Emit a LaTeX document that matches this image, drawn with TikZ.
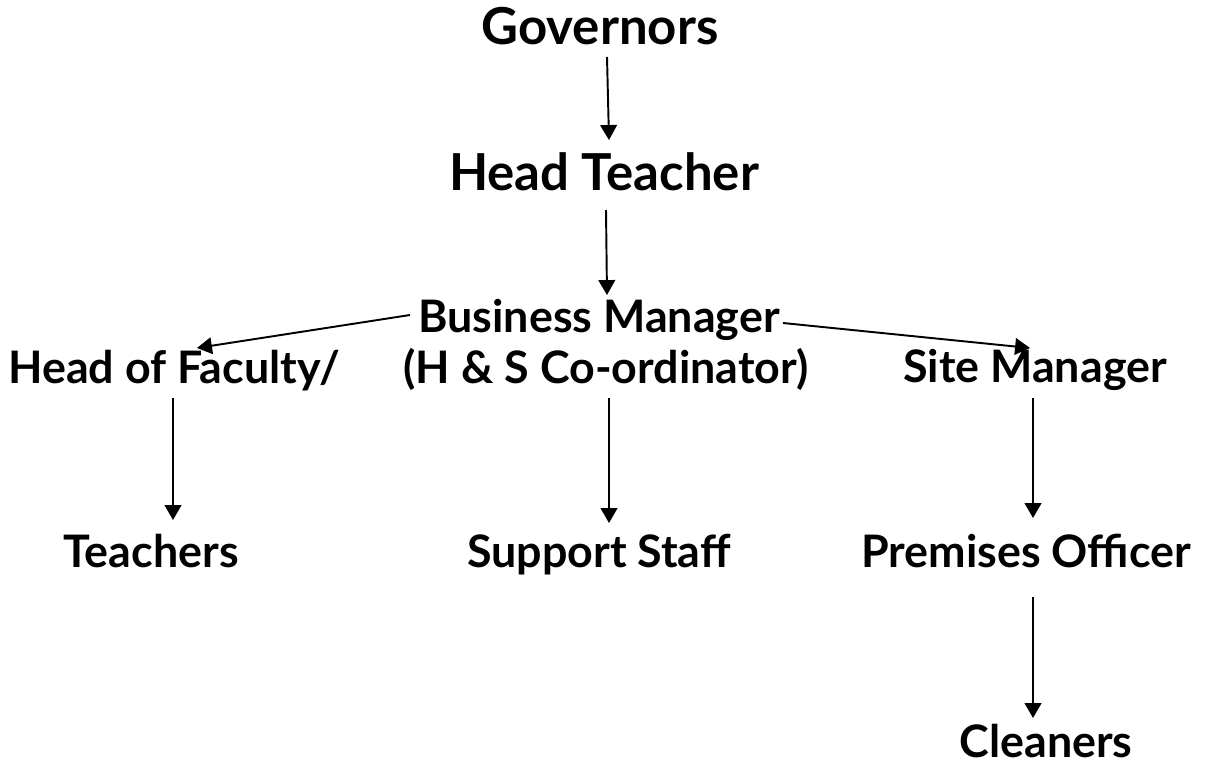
\documentclass[tikz,border=0pt]{standalone}
\usepackage{fontspec}
\setmainfont{Lato}
\usetikzlibrary{arrows.meta,calc}
\tikzset{
  big/.style={anchor=base, inner sep=0pt, font=\fontsize{29}{34}\selectfont\bfseries},
  small/.style={anchor=base, inner sep=0pt, font=\fontsize{25.5}{30}\selectfont\bfseries},
  arr/.style={line width=1.1pt, -{Triangle[width=9.5pt,length=8.5pt]}}
}
\begin{document}
\begin{tikzpicture}[x=0.02cm, y=-0.02cm]
\useasboundingbox (0,0) rectangle (1206,767);
\node (gov) [big, at = {(600,45)}] {Governors};
\node (head) [big, at = {(604,190)}] {Head Teacher};
\node (bm) [small, at = {(599,332)}] {Business Manager};
\node (hsc) [small, at = {(606,383)}] {(H \& S Co-ordinator)};
\node (hof) [small, at = {(174,383)}] {Head of Faculty/};
\node (site) [small, at = {(1035,382)}] {Site Manager};
\node (teach) [small, at = {(151,567)}] {Teachers};
\node (support) [small, at = {(599,567)}] {Support Staff};
\node (prem) [small, at = {(1026,567)}] {Premises Officer};
\node (clean) [small, at = {(1046,757)}] {Cleaners};
\draw [arr] ($(gov.base)+(7,12)$) -- ($(head.base)+(5,-50)$);
\draw [arr] ($(head.base)+(2,20)$) -- ($(bm.base)+(8,-37)$);
\draw [arr] ($(bm.base)+(-189,-17)$) -- ($(hof.base)+(23,-35)$);
\draw [arr] ($(bm.base)+(184,-9)$) -- ($(site.base)+(-5,-34)$);
\draw [arr] ($(hof.base)+(-1,15)$) -- ($(teach.base)+(22,-47)$);
\draw [arr] ($(hsc.base)+(3,15)$) -- ($(support.base)+(10,-44)$);
\draw [arr] ($(site.base)+(-2,16)$) -- ($(prem.base)+(7,-49)$);
\draw [arr] ($(prem.base)+(7,30)$) -- ($(clean.base)+(-13,-39)$);
\end{tikzpicture}
\end{document}
